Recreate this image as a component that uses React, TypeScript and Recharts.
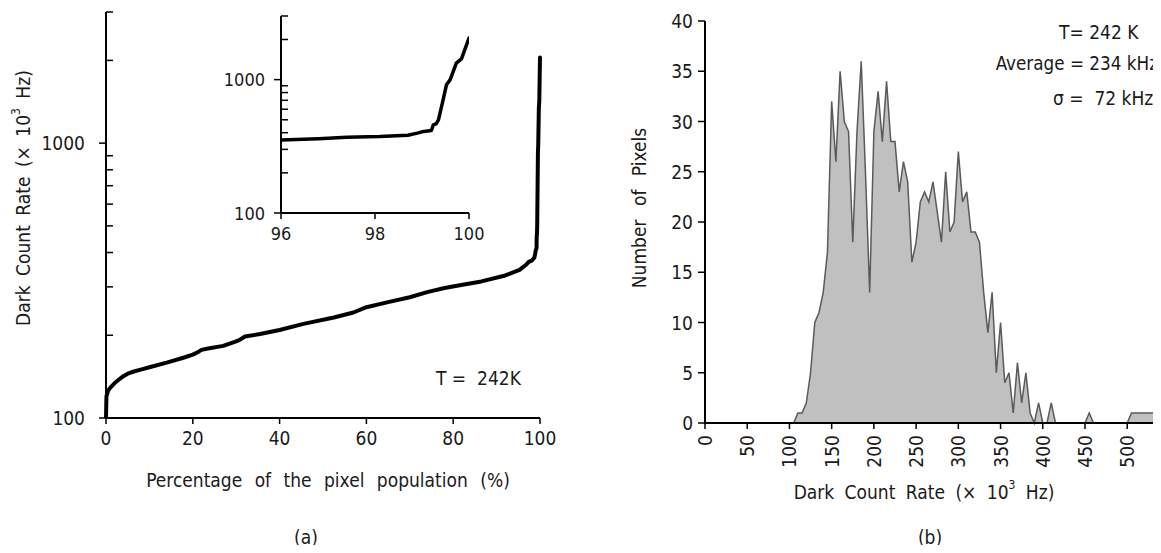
import React from 'react';
import { LineChart, Line, AreaChart, Area, XAxis, YAxis } from 'recharts';

// ---------- (a) cumulative distribution ----------
const populationPct = [
  0, 0.1, 0.5, 1, 2, 3, 4, 5, 6, 8,
  10, 14, 18, 20, 21, 22, 23.5, 27, 29.5, 30.7,
  32, 35.5, 40, 45.5, 52.5, 57, 60, 65, 70, 74,
  78, 82.5, 86.5, 92, 95.3, 96, 96.8, 97.4, 98.1, 98.7,
  98.9, 99.0, 99.2, 99.24, 99.3, 99.35, 99.45, 99.52, 99.6, 99.73,
  99.84, 100,
];
const darkCountRate = [
  100, 120, 126, 129, 134, 138, 142, 145, 147, 150,
  153, 159, 166, 170, 173, 177, 179, 183, 189, 192,
  198, 202, 209, 220, 232, 242, 253, 264, 275, 287,
  297, 306, 314, 330, 346, 353, 361, 370, 374, 383,
  397, 406, 415, 458, 466, 499, 707, 915, 1000, 1330,
  1430, 2050,
];
const rateTicks = [100, 200, 300, 400, 500, 600, 700, 800, 900, 1000, 2000, 3000];
const majorRateTicks = [100, 1000];
const pctTicks = [0, 20, 40, 60, 80, 100];
const insetPctTicks = [96, 98, 100];

// ---------- (b) histogram ----------
const histBins = [
  0, 5, 10, 15, 20, 25, 30, 35, 40, 45, 50, 55, 60, 65, 70, 75, 80, 85, 90, 95,
  100, 105, 110, 115, 120, 125, 130, 135, 140, 145, 150, 155, 160, 165, 170, 175, 180, 185, 190, 195,
  200, 205, 210, 215, 220, 225, 230, 235, 240, 245, 250, 255, 260, 265, 270, 275, 280, 285, 290, 295,
  300, 305, 310, 315, 320, 325, 330, 335, 340, 345, 350, 355, 360, 365, 370, 375, 380, 385, 390, 395,
  400, 405, 410, 415, 420, 425, 430, 435, 440, 445, 450, 455, 460, 465, 470, 475, 480, 485, 490, 495,
  500, 505, 510, 515, 520, 525, 530, 535, 540,
];
const histCounts = [
  0, 0, 0, 0, 0, 0, 0, 0, 0, 0, 0, 0, 0, 0, 0, 0, 0, 0, 0, 0,
  0, 0, 1, 1, 2, 5, 10, 11, 13, 17, 32, 26, 35, 30, 29, 18, 29, 36, 25, 13,
  29, 33, 28, 34, 28, 28, 23, 26, 24, 16, 18, 22, 23, 22, 24, 21, 18, 25, 19, 20,
  27, 22, 23, 19, 19, 18, 13, 9, 13, 5, 10, 4, 5, 1, 6, 2, 5, 1, 0, 2,
  0, 0, 2, 0, 0, 0, 0, 0, 0, 0, 0, 1, 0, 0, 0, 0, 0, 0, 0, 0,
  0, 1, 1, 1, 1, 1, 1, 1, 0,
];
const binTicks = [0, 50, 100, 150, 200, 250, 300, 350, 400, 450, 500];
const countTicks = [0, 5, 10, 15, 20, 25, 30, 35, 40];

const FONT = "'DejaVu Sans Condensed', 'DejaVu Sans', sans-serif";
const TXT = '#1a1a1a';
const FS = 19;

const cdfData = populationPct.map((p, i) => ({ pct: p, rate: darkCountRate[i] }));
const insetData = cdfData.filter((d) => d.pct >= 96);
const histData = histBins.map((b, i) => ({ bin: b, count: histCounts[i] }));

const makeLogTick = (fontSize: number, gap: number) => (props: any) => {
  const { x, y, payload } = props;
  const v = payload.value;
  const major = majorRateTicks.includes(v);
  return (
    <g>
      <line x1={major ? x - 7 : x} x2={major ? x : x + 7} y1={y} y2={y} stroke="#000" strokeWidth={1.5} />
      {major && (
        <text x={x - gap} y={y} textAnchor="end" dominantBaseline="central" fontSize={fontSize} fontFamily={FONT} fill={TXT}>
          {v}
        </text>
      )}
    </g>
  );
};

const makeBottomTick = (fontSize: number, gap: number) => (props: any) => {
  const { x, y, payload } = props;
  return (
    <g>
      <line x1={x} x2={x} y1={y} y2={y + 6} stroke="#000" strokeWidth={1.5} />
      <text x={x} y={y + gap} textAnchor="middle" dominantBaseline="central" fontSize={fontSize} fontFamily={FONT} fill={TXT}>
        {payload.value}
      </text>
    </g>
  );
};

const CountTick = (props: any) => {
  const { x, y, payload } = props;
  return (
    <g>
      <line x1={x - 7} x2={x} y1={y} y2={y} stroke="#000" strokeWidth={1.5} />
      <text x={x - 12} y={y} textAnchor="end" dominantBaseline="central" fontSize={FS} fontFamily={FONT} fill={TXT}>
        {payload.value}
      </text>
    </g>
  );
};

const BinTick = (props: any) => {
  const { x, y, payload } = props;
  return (
    <g>
      <line x1={x} x2={x} y1={y} y2={y + 6} stroke="#000" strokeWidth={1.5} />
      <text
        transform={`translate(${x},${y + 12}) rotate(-90)`}
        textAnchor="end"
        dominantBaseline="central"
        fontSize={FS}
        fontFamily={FONT}
        fill={TXT}
      >
        {payload.value}
      </text>
    </g>
  );
};

const axisLine = { stroke: '#000', strokeWidth: 2 };
const textStyle: any = { fontFamily: FONT, fill: TXT, whiteSpace: 'pre' };
const titleStyle = (ws: number): any => ({ fontFamily: FONT, fill: TXT, whiteSpace: 'pre', wordSpacing: ws });

export default function App() {
  return (
    <div style={{ position: 'relative', width: 1161, height: 553, background: '#fff', margin: -8 }}>
      {/* (a) main */}
      <div style={{ position: 'absolute', left: 0, top: 0 }}>
        <LineChart width={580} height={553} data={cdfData} margin={{ top: 12, right: 40, bottom: 95, left: 0 }}>
          <XAxis
            dataKey="pct"
            type="number"
            domain={[0, 100]}
            ticks={pctTicks}
            axisLine={axisLine}
            tickLine={false}
            tickSize={0}
            tickMargin={0}
            height={40}
            tick={makeBottomTick(FS, 20)}
            interval={0}
          />
          <YAxis
            type="number"
            scale="log"
            domain={[100, 3000]}
            allowDataOverflow
            ticks={rateTicks}
            axisLine={axisLine}
            tickLine={false}
            tickSize={0}
            tickMargin={0}
            width={106}
            tick={makeLogTick(FS, 21)}
            interval={0}
          />
          <Line
            dataKey="rate"
            type="linear"
            stroke="#000"
            strokeWidth={4}
            dot={false}
            strokeLinejoin="round"
            strokeLinecap="round"
            isAnimationActive={false}
          />
        </LineChart>
      </div>
      {/* (a) inset */}
      <div style={{ position: 'absolute', left: 200, top: 0 }}>
        <LineChart width={300} height={260} data={insetData} margin={{ top: 16, right: 31, bottom: 22, left: 0 }}>
          <XAxis
            dataKey="pct"
            type="number"
            domain={[96, 100]}
            allowDataOverflow
            ticks={insetPctTicks}
            axisLine={axisLine}
            tickLine={false}
            tickSize={0}
            tickMargin={0}
            height={25}
            tick={makeBottomTick(18, 20)}
            interval={0}
          />
          <YAxis
            type="number"
            scale="log"
            domain={[100, 3000]}
            allowDataOverflow
            ticks={rateTicks}
            axisLine={axisLine}
            tickLine={false}
            tickSize={0}
            tickMargin={0}
            width={81}
            tick={makeLogTick(18, 16)}
            interval={0}
          />
          <Line
            dataKey="rate"
            type="linear"
            stroke="#000"
            strokeWidth={3.5}
            dot={false}
            strokeLinejoin="round"
            strokeLinecap="round"
            isAnimationActive={false}
          />
        </LineChart>
      </div>
      {/* (b) histogram */}
      <div style={{ position: 'absolute', left: 580, top: 0 }}>
        <AreaChart width={581} height={553} data={histData} margin={{ top: 21, right: 0, bottom: 80, left: 0 }}>
          <XAxis
            dataKey="bin"
            type="number"
            domain={[0, 540]}
            ticks={binTicks}
            axisLine={axisLine}
            tickLine={false}
            tickSize={0}
            tickMargin={0}
            height={50}
            tick={BinTick}
            interval={0}
          />
          <YAxis
            type="number"
            domain={[0, 40]}
            ticks={countTicks}
            axisLine={axisLine}
            tickLine={false}
            tickSize={0}
            tickMargin={0}
            width={125}
            tick={CountTick}
            interval={0}
          />
          <Area
            dataKey="count"
            type="linear"
            stroke="#5a5a5a"
            strokeWidth={1.5}
            fill="#c0c0c0"
            fillOpacity={1}
            isAnimationActive={false}
          />
        </AreaChart>
      </div>
      {/* text overlay */}
      <svg width={1161} height={553} style={{ position: 'absolute', left: 0, top: 0, pointerEvents: 'none' }}>
        <text transform="translate(23,198) rotate(-90)" textAnchor="middle" dominantBaseline="central" fontSize={FS} style={titleStyle(4)}>
          Dark Count Rate (× 10<tspan dy={-7} fontSize={12}>3</tspan><tspan dy={7}> Hz)</tspan>
        </text>
        <text x={328} y={480} textAnchor="middle" dominantBaseline="central" fontSize={FS} style={titleStyle(7)}>
          {'Percentage of the pixel population (%)'}
        </text>
        <text x={306} y={537} textAnchor="middle" dominantBaseline="central" fontSize={FS} style={textStyle}>
          (a)
        </text>
        <text x={436} y={378} textAnchor="start" dominantBaseline="central" fontSize={FS} style={textStyle}>
          {'T =  242K'}
        </text>
        <text transform="translate(639,208) rotate(-90)" textAnchor="middle" dominantBaseline="central" fontSize={FS} style={titleStyle(8)}>
          {'Number of Pixels'}
        </text>
        <text x={924} y={492} textAnchor="middle" dominantBaseline="central" fontSize={FS} style={titleStyle(5)}>
          Dark Count Rate (× 10<tspan dy={-7} fontSize={12}>3</tspan><tspan dy={7}> Hz)</tspan>
        </text>
        <text x={930} y={537} textAnchor="middle" dominantBaseline="central" fontSize={FS} style={textStyle}>
          (b)
        </text>
        <text x={1059} y={32} textAnchor="start" dominantBaseline="central" fontSize={FS} style={textStyle}>
          T= 242 K
        </text>
        <text x={1158} y={63} textAnchor="end" dominantBaseline="central" fontSize={18.7} style={textStyle}>
          Average = 234 kHz
        </text>
        <text x={1053} y={98} textAnchor="start" dominantBaseline="central" fontSize={FS} style={textStyle}>
          {'σ =  72 kHz'}
        </text>
      </svg>
    </div>
  );
}
